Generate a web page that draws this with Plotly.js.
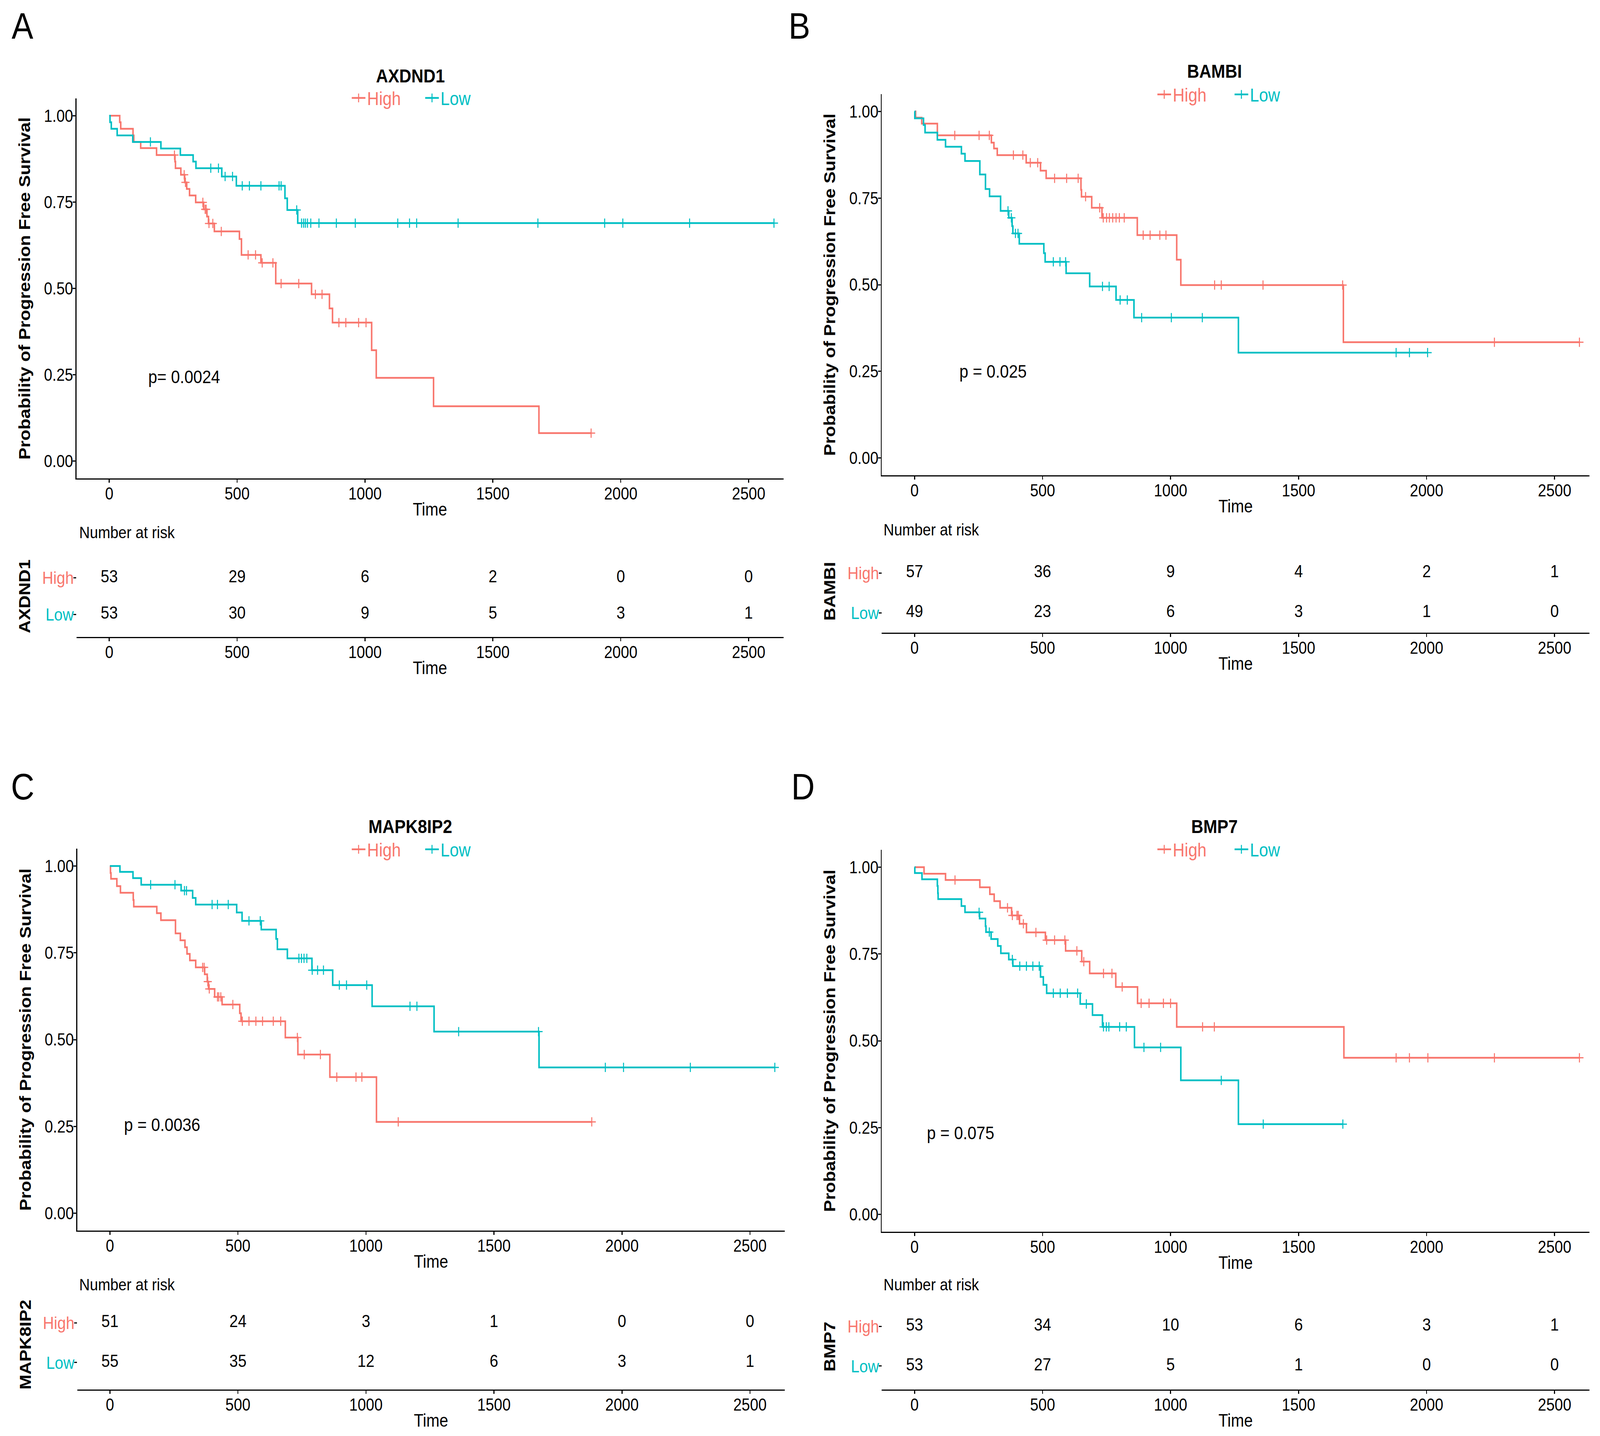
<!DOCTYPE html>
<html><head><meta charset="utf-8">
<script src="https://cdn.plot.ly/plotly-3.0.1.min.js"></script>
<style>html,body{margin:0;padding:0;background:#fff;overflow:hidden;}#chart{position:absolute;left:0;top:0;transform-origin:0 0;}</style>
</head><body><div id="chart"></div>
<script>
const RED = '#F8766D', TEAL = '#00BFC4';
const FONT = 'Liberation Sans, Arial, Helvetica, sans-serif';

// ---------- data ----------
const riskTimes = [0, 500, 1000, 1500, 2000, 2500];
const xTicks = [0, 500, 1000, 1500, 2000, 2500];
const yTicks = [0, 0.25, 0.5, 0.75, 1];
const yTickText = ['0.00', '0.25', '0.50', '0.75', '1.00'];

// Panel A: AXDND1
const A_high_t = [41, 45, 93, 96, 123, 185, 257, 259, 280, 295, 303, 314, 338, 369, 382, 388, 411, 509, 517, 593, 651, 791, 861, 873, 1026, 1044, 1268, 1680];
const A_high_s = [0.981, 0.962, 0.943, 0.924, 0.906, 0.886, 0.867, 0.848, 0.829, 0.807, 0.788, 0.769, 0.749, 0.729, 0.708, 0.688, 0.665, 0.643, 0.597, 0.574, 0.514, 0.483, 0.442, 0.401, 0.321, 0.241, 0.159, 0.081];
const A_high_cens = [255, 293, 298, 366, 375, 379, 390, 405, 438, 543, 572, 598, 640, 672, 741, 806, 832, 898, 925, 975, 1004, 1884];
const A_low_t = [3, 8, 31, 92, 202, 278, 328, 339, 440, 497, 687, 696, 737];
const A_low_s = [0.981, 0.962, 0.943, 0.924, 0.905, 0.886, 0.867, 0.848, 0.824, 0.797, 0.761, 0.727, 0.689];
const A_low_cens = [161, 397, 427, 453, 482, 520, 548, 593, 664, 672, 733, 752, 760, 767, 775, 788, 820, 888, 962, 1128, 1174, 1202, 1364, 1676, 1937, 2008, 2269, 2599];
const A_risk_high = [53, 29, 6, 2, 0, 0];
const A_risk_low = [53, 30, 9, 5, 3, 1];

// Panel B: BAMBI
const B_high_t = [4, 28, 89, 300, 310, 323, 436, 492, 514, 650, 652, 692, 732, 870, 1024, 1040, 1675];
const B_high_s = [0.982, 0.965, 0.931, 0.910, 0.893, 0.874, 0.852, 0.829, 0.807, 0.774, 0.754, 0.722, 0.693, 0.643, 0.572, 0.499, 0.334];
const B_high_cens = [157, 252, 292, 386, 423, 452, 481, 547, 594, 639, 668, 723, 737, 750, 761, 774, 787, 800, 819, 893, 920, 958, 982, 1172, 1198, 1361, 1672, 2265, 2597];
const B_low_t = [1, 35, 41, 89, 121, 183, 197, 255, 277, 293, 336, 368, 381, 384, 409, 505, 510, 592, 684, 787, 857, 1265];
const B_low_s = [0.980, 0.961, 0.939, 0.918, 0.898, 0.878, 0.857, 0.818, 0.776, 0.755, 0.713, 0.693, 0.669, 0.648, 0.618, 0.591, 0.566, 0.533, 0.495, 0.456, 0.405, 0.304];
const B_low_cens = [365, 378, 394, 404, 542, 568, 590, 734, 760, 803, 831, 887, 1003, 1124, 1881, 1933, 2004];
const B_risk_high = [57, 36, 9, 4, 2, 1];
const B_risk_low = [49, 23, 6, 3, 1, 0];

// Panel C: MAPK8IP2
const C_high_t = [2, 4, 27, 41, 91, 93, 183, 199, 256, 275, 293, 301, 312, 335, 370, 380, 385, 409, 438, 507, 512, 685, 734, 859, 1041];
const C_high_s = [0.980, 0.963, 0.942, 0.923, 0.902, 0.883, 0.864, 0.844, 0.806, 0.786, 0.766, 0.747, 0.728, 0.708, 0.688, 0.667, 0.646, 0.623, 0.601, 0.576, 0.553, 0.506, 0.457, 0.392, 0.263];
const C_high_cens = [362, 368, 382, 388, 420, 425, 433, 480, 517, 543, 570, 596, 638, 667, 732, 759, 822, 886, 961, 984, 1126, 1882];
const C_low_t = [39, 90, 122, 278, 323, 335, 495, 516, 591, 649, 654, 693, 789, 870, 1024, 1266, 1676];
const C_low_s = [0.983, 0.965, 0.946, 0.929, 0.908, 0.889, 0.866, 0.842, 0.817, 0.790, 0.760, 0.734, 0.700, 0.657, 0.596, 0.523, 0.420];
const C_low_cens = [159, 254, 291, 299, 399, 420, 462, 543, 587, 738, 748, 758, 769, 790, 811, 834, 896, 924, 1003, 1172, 1199, 1362, 1674, 1935, 2006, 2267, 2597];
const C_risk_high = [51, 24, 3, 1, 0, 0];
const C_risk_low = [55, 35, 12, 6, 3, 1];

// Panel D: BMP7
const D_high_t = [37, 121, 255, 294, 311, 334, 379, 410, 437, 511, 590, 653, 684, 786, 871, 1024, 1677];
const D_high_s = [0.981, 0.963, 0.942, 0.922, 0.902, 0.883, 0.861, 0.837, 0.812, 0.790, 0.759, 0.728, 0.694, 0.655, 0.608, 0.540, 0.451];
const D_high_cens = [158, 363, 382, 400, 405, 425, 474, 516, 547, 587, 634, 661, 738, 771, 811, 885, 916, 972, 1000, 1125, 1171, 1881, 1933, 2005, 2265, 2597];
const D_low_t = [1, 29, 89, 91, 92, 183, 197, 254, 277, 279, 299, 325, 337, 368, 384, 492, 503, 516, 647, 695, 734, 859, 1040, 1265];
const D_low_s = [0.983, 0.965, 0.946, 0.925, 0.908, 0.888, 0.870, 0.852, 0.830, 0.813, 0.793, 0.773, 0.752, 0.734, 0.715, 0.684, 0.661, 0.637, 0.606, 0.574, 0.540, 0.481, 0.386, 0.260];
const D_low_cens = [252, 292, 382, 411, 437, 462, 487, 542, 569, 597, 637, 671, 738, 749, 759, 801, 827, 896, 961, 1198, 1362, 1673];
const D_risk_high = [53, 34, 10, 6, 3, 1];
const D_risk_low = [53, 27, 5, 1, 0, 0];

// ---------- layout geometry (pixels of the 4685x3677 reference) ----------
const W = 4685, H = 3677;
const px = v => v / W;
const py = v => 1 - v / H;

const panels = [
  { letter: 'A', gene: 'AXDND1', pval: 'p= 0.0024', pvalAt: [150, 0.245],
    high: [A_high_t, A_high_s, A_high_cens], low: [A_low_t, A_low_s, A_low_cens],
    riskHigh: A_risk_high, riskLow: A_risk_low,
    g: { mx: [224, 2294], my: [252, 1225], ry: [1423, 1631], rr: [0.383, 2.6], let: [66, 66], tit: [1201, 194], nar: [230, 1363], legY: 251, legH: 1025, legL: 1240 } },
  { letter: 'B', gene: 'BAMBI', pval: 'p = 0.025', pvalAt: [172, 0.25],
    high: [B_high_t, B_high_s, B_high_cens], low: [B_low_t, B_low_s, B_low_cens],
    riskHigh: B_risk_high, riskLow: B_risk_low,
    g: { mx: [2582, 4654], my: [241, 1217], ry: [1408, 1620], rr: [0.5, 2.58], let: [2340, 66], tit: [3556, 182], nar: [2585, 1356], legY: 242, legH: 3384, legL: 3610 } },
  { letter: 'C', gene: 'MAPK8IP2', pval: 'p = 0.0036', pvalAt: [52, 0.255],
    high: [C_high_t, C_high_s, C_high_cens], low: [C_low_t, C_low_s, C_low_cens],
    riskHigh: C_risk_high, riskLow: C_risk_low,
    g: { mx: [226, 2298], my: [2173, 3151], ry: [3328, 3558], rr: [0.32, 2.58], let: [66, 2014], tit: [1201, 2116], nar: [230, 3289], legY: 2175, legH: 1025, legL: 1240 } },
  { letter: 'D', gene: 'BMP7', pval: 'p = 0.075', pvalAt: [45, 0.235],
    high: [D_high_t, D_high_s, D_high_cens], low: [D_low_t, D_low_s, D_low_cens],
    riskHigh: D_risk_high, riskLow: D_risk_low,
    g: { mx: [2582, 4654], my: [2176, 3154], ry: [3338, 3558], rr: [0.41, 2.57], let: [2352, 2014], tit: [3556, 2116], nar: [2585, 3289], legY: 2175, legH: 3384, legL: 3610 } }
];

function survAt(times, surv, t) {
  let s = 1;
  for (let i = 0; i < times.length; i++) if (times[i] <= t) s = surv[i];
  return s;
}
function stepCurve(times, surv, cens) {
  const end = Math.max(times[times.length - 1], ...cens);
  return { x: [0, ...times, end], y: [1, ...surv, surv[surv.length - 1]] };
}

const traces = [];
const layout = {
  width: W, height: H, margin: { l: 0, r: 0, t: 0, b: 0 },
  paper_bgcolor: '#ffffff', plot_bgcolor: '#ffffff',
  font: { family: FONT, color: '#000000', size: 44 },
  showlegend: true, annotations: []
};

panels.forEach((p, i) => {
  const nM = 2 * i + 1, nR = 2 * i + 2;
  const xM = nM === 1 ? 'x' : 'x' + nM, yM = nM === 1 ? 'y' : 'y' + nM;
  const xR = 'x' + nR, yR = 'y' + nR;
  const legH = nM === 1 ? 'legend' : 'legend' + nM, legL = 'legend' + nR;

  [[p.high, RED, 'High', legH], [p.low, TEAL, 'Low', legL]].forEach(([d, col, name, leg]) => {
    const c = stepCurve(d[0], d[1], d[2]);
    traces.push({ type: 'scatter', mode: 'lines', x: c.x, y: c.y, xaxis: xM, yaxis: yM,
      line: { color: col, width: 4.5, shape: 'hv' }, showlegend: false, hoverinfo: 'skip' });
    traces.push({ type: 'scatter', mode: 'markers', x: d[2], y: d[2].map(t => survAt(d[0], d[1], t)),
      xaxis: xM, yaxis: yM, showlegend: false, hoverinfo: 'skip',
      marker: { symbol: 'cross-thin', size: 17, color: col, line: { color: col, width: 3 } } });
    traces.push({ type: 'scatter', mode: 'lines+markers', x: [null], y: [null], xaxis: xM, yaxis: yM,
      name: name, legend: leg, showlegend: true, hoverinfo: 'skip',
      line: { color: col, width: 4.5 },
      marker: { symbol: 'cross-thin', size: 16, color: col, line: { color: col, width: 3 } } });
  });

  [[p.riskHigh, 2], [p.riskLow, 1]].forEach(([vals, lvl]) => {
    traces.push({ type: 'scatter', mode: 'text', x: riskTimes, y: riskTimes.map(() => lvl),
      text: vals.map(String), textposition: 'middle center', xaxis: xR, yaxis: yR,
      textfont: { family: FONT, size: 45, color: '#000000' }, showlegend: false, hoverinfo: 'skip' });
  });

  const g = p.g;
  const xCommon = {
    range: [-128, 2636], showline: true, linecolor: '#000', linewidth: 3, mirror: false,
    ticks: 'outside', ticklen: 8, tickwidth: 3, tickcolor: '#000', ticklabelstandoff: -10,
    tickvals: xTicks, ticktext: xTicks.map(String), tickfont: { size: 44, color: '#000' },
    showgrid: false, zeroline: false, fixedrange: true,
    title: { text: 'Time', font: { size: 46, color: '#000' }, standoff: 2 }
  };
  layout[nM === 1 ? 'xaxis' : 'xaxis' + nM] = Object.assign({}, xCommon,
    { domain: [px(g.mx[0]), px(g.mx[1])], anchor: yM });
  layout['yaxis' + (nM === 1 ? '' : nM)] = {
    domain: [py(g.my[1]), py(g.my[0])], anchor: xM, range: [-0.05, 1.05],
    showline: true, linecolor: '#000', linewidth: 3, ticks: 'outside', ticklen: 8, tickwidth: 3, tickcolor: '#000',
    ticklabelstandoff: -10,
    tickvals: yTicks, ticktext: yTickText, tickfont: { size: 44, color: '#000' },
    showgrid: false, zeroline: false, fixedrange: true,
    title: { text: '<b>Probability of Progression Free Survival</b>', font: { size: 46, color: '#000' }, standoff: 26 }
  };
  layout['xaxis' + nR] = Object.assign({}, xCommon,
    { domain: [px(g.mx[0]), px(g.mx[1])], anchor: yR });
  layout['yaxis' + nR] = {
    domain: [py(g.ry[1]), py(g.ry[0])], anchor: xR, range: g.rr,
    showline: false, ticks: 'outside', ticklen: 8, tickwidth: 3, tickcolor: '#000',
    ticklabelstandoff: -10,
    tickvals: [2, 1],
    ticktext: ['<span style="color:' + RED + '">High</span>', '<span style="color:' + TEAL + '">Low</span>'],
    tickfont: { size: 45 }, showgrid: false, zeroline: false, fixedrange: true,
    title: { text: '<b>' + p.gene + '</b>', font: { size: 46, color: '#000' }, standoff: 20 }
  };

  layout[legH] = { x: px(g.legH), y: py(g.legY), xanchor: 'left', yanchor: 'middle', orientation: 'h',
    bgcolor: 'rgba(0,0,0,0)', borderwidth: 0, font: { family: FONT, size: 48, color: RED }, itemwidth: 40 };
  layout[legL] = { x: px(g.legL), y: py(g.legY), xanchor: 'left', yanchor: 'middle', orientation: 'h',
    bgcolor: 'rgba(0,0,0,0)', borderwidth: 0, font: { family: FONT, size: 48, color: TEAL }, itemwidth: 40 };

  layout.annotations.push(
    { text: p.letter, xref: 'paper', yref: 'paper', x: px(g.let[0]), y: py(g.let[1]),
      xanchor: 'center', yanchor: 'middle', showarrow: false, font: { size: 95, color: '#000' } },
    { text: '<b>' + p.gene + '</b>', xref: 'paper', yref: 'paper', x: px(g.tit[0]), y: py(g.tit[1]),
      xanchor: 'center', yanchor: 'middle', showarrow: false, font: { size: 49, color: '#000' } },
    { text: 'Number at risk', xref: 'paper', yref: 'paper', x: px(g.nar[0]), y: py(g.nar[1]),
      xanchor: 'left', yanchor: 'middle', showarrow: false, font: { size: 43, color: '#000' } },
    { text: p.pval, xref: xM, yref: yM, x: p.pvalAt[0], y: p.pvalAt[1],
      xanchor: 'left', yanchor: 'middle', showarrow: false, font: { size: 47, color: '#000' } }
  );
});

// fit the reference-sized figure into whatever viewport the browser really has
const el = document.getElementById('chart');
el.style.width = W + 'px';
el.style.height = H + 'px';
const sx = (window.innerWidth || W) / W, sy = (window.innerHeight || H) / H;
el.style.transform = 'scale(' + sx + ',' + sy + ')';
Plotly.newPlot(el, traces, layout, { staticPlot: true, displayModeBar: false });
</script></body></html>
